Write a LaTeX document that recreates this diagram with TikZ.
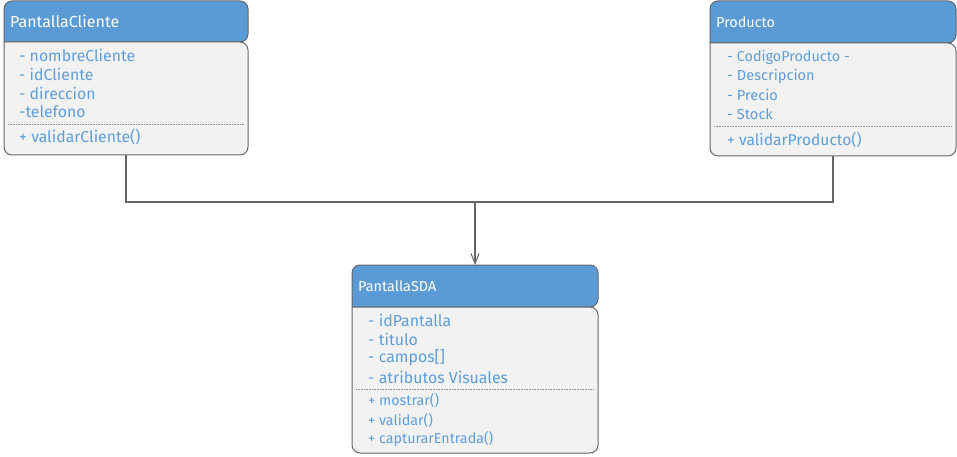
\documentclass[tikz,border=0pt]{standalone}
\usepackage{fontspec}
\setmainfont{Fira Sans}
\usetikzlibrary{arrows.meta}
\definecolor{hdr}{HTML}{5B9BD5}
\definecolor{bodyc}{HTML}{F2F2F2}
\definecolor{edgec}{HTML}{666666}
\definecolor{txt}{HTML}{5F9EDB}
\definecolor{sepc}{HTML}{8C8C8C}
\begin{document}
\begin{tikzpicture}[x=1pt,y=-1pt,
  hdrshape/.style={draw=edgec, line width=1pt, fill=hdr},
  bodyshape/.style={draw=edgec, line width=1pt, fill=bodyc},
  hdrtext/.style={anchor=west, inner sep=0pt, text=white},
  item/.style={anchor=west, inner sep=0pt, text=txt},
  sepline/.style={draw=sepc, line width=0.6pt, densely dotted},
  frame/.style={inner sep=0pt, outer sep=0pt, draw=none},
  conn/.style={draw=edgec, line width=1.1pt},
  arrowconn/.style={conn, -{Straight Barb[length=10pt,width=8pt]}}]
\useasboundingbox (0,0) rectangle (957,457);

% ---------- PantallaCliente ----------
\draw[hdrshape] (4,42) [rounded corners=8pt] -- (4,1) -- (248,1) -- (248,42) [sharp corners] -- cycle;
\draw[bodyshape] (4,42) [rounded corners=8pt] -- (4,155) -- (248,155) -- (248,42) [sharp corners] -- cycle;
\node[frame, minimum width=244pt, minimum height=41pt, anchor=north west] (pcH) at (4,1) {};
\node[frame, minimum width=244pt, minimum height=113pt, anchor=north west] (pcB) at (4,42) {};
\node[hdrtext, font=\fontsize{16}{18}\selectfont] (pcT) at (10,21) {PantallaCliente};
\node[item, font=\fontsize{15.8}{18}\selectfont] (pc1) at (19,55) {- nombreCliente};
\node[item, font=\fontsize{15.8}{18}\selectfont] (pc2) at (19,74) {- idCliente};
\node[item, font=\fontsize{15.8}{18}\selectfont] (pc3) at (19,93) {- direccion};
\node[item, font=\fontsize{15.8}{18}\selectfont] (pc4) at (19,112) {-telefono};
\draw[sepline] (8,124) -- (244,124);
\node[item, font=\fontsize{15.8}{18}\selectfont] (pc5) at (19,137) {+ validarCliente()};

% ---------- Producto ----------
\draw[hdrshape] (710,43) [rounded corners=8pt] -- (710,1) -- (956,1) -- (956,43) [sharp corners] -- cycle;
\draw[bodyshape] (710,43) [rounded corners=8pt] -- (710,156) -- (956,156) -- (956,43) [sharp corners] -- cycle;
\node[frame, minimum width=246pt, minimum height=42pt, anchor=north west] (prH) at (710,1) {};
\node[frame, minimum width=246pt, minimum height=113pt, anchor=north west] (prB) at (710,43) {};
\node[hdrtext, font=\fontsize{14.4}{16}\selectfont] (prT) at (716,22) {Producto};
\node[item, font=\fontsize{14.4}{16}\selectfont] (pr1) at (727,57) {- CodigoProducto -};
\node[item, font=\fontsize{14.6}{16}\selectfont] (pr2) at (727,76) {- Descripcion};
\node[item, font=\fontsize{14.6}{16}\selectfont] (pr3) at (727,95) {- Precio};
\node[item, font=\fontsize{14.6}{16}\selectfont] (pr4) at (727,114) {- Stock};
\draw[sepline] (714,126) -- (952,126);
\node[item, font=\fontsize{15.6}{17}\selectfont] (pr5) at (727,140) {+ validarProducto()};

% ---------- PantallaSDA ----------
\draw[hdrshape] (352,307) [rounded corners=8pt] -- (352,265) -- (598,265) -- (598,307) [sharp corners] -- cycle;
\draw[bodyshape] (352,307) [rounded corners=8pt] -- (352,453) -- (598,453) -- (598,307) [sharp corners] -- cycle;
\node[frame, minimum width=246pt, minimum height=42pt, anchor=north west] (sdaH) at (352,265) {};
\node[frame, minimum width=246pt, minimum height=146pt, anchor=north west] (sdaB) at (352,307) {};
\node[hdrtext, font=\fontsize{14.4}{16}\selectfont] (sdaT) at (358,286) {PantallaSDA};
\node[item, font=\fontsize{15.9}{18}\selectfont] (sda1) at (368,320) {- idPantalla};
\node[item, font=\fontsize{15.9}{18}\selectfont] (sda2) at (368,339) {- titulo};
\node[item, font=\fontsize{15.9}{18}\selectfont] (sda3) at (368,358) {- campos[]};
\node[item, font=\fontsize{15.9}{18}\selectfont] (sda4) at (368,377) {- atributos Visuales};
\draw[sepline] (356,389) -- (594,389);
\node[item, font=\fontsize{14.3}{16}\selectfont] (sda5) at (368,400) {+ mostrar()};
\node[item, font=\fontsize{14.3}{16}\selectfont] (sda6) at (368,420) {+ validar()};
\node[item, font=\fontsize{14.3}{16}\selectfont] (sda7) at (368,439) {+ capturarEntrada()};

% ---------- connectors ----------
\coordinate (j) at (475,202);
\draw[conn] (prB.south) |- (j);
\draw[arrowconn] (pcB.south) |- (j) -- (sdaH.north);
\end{tikzpicture}
\end{document}
